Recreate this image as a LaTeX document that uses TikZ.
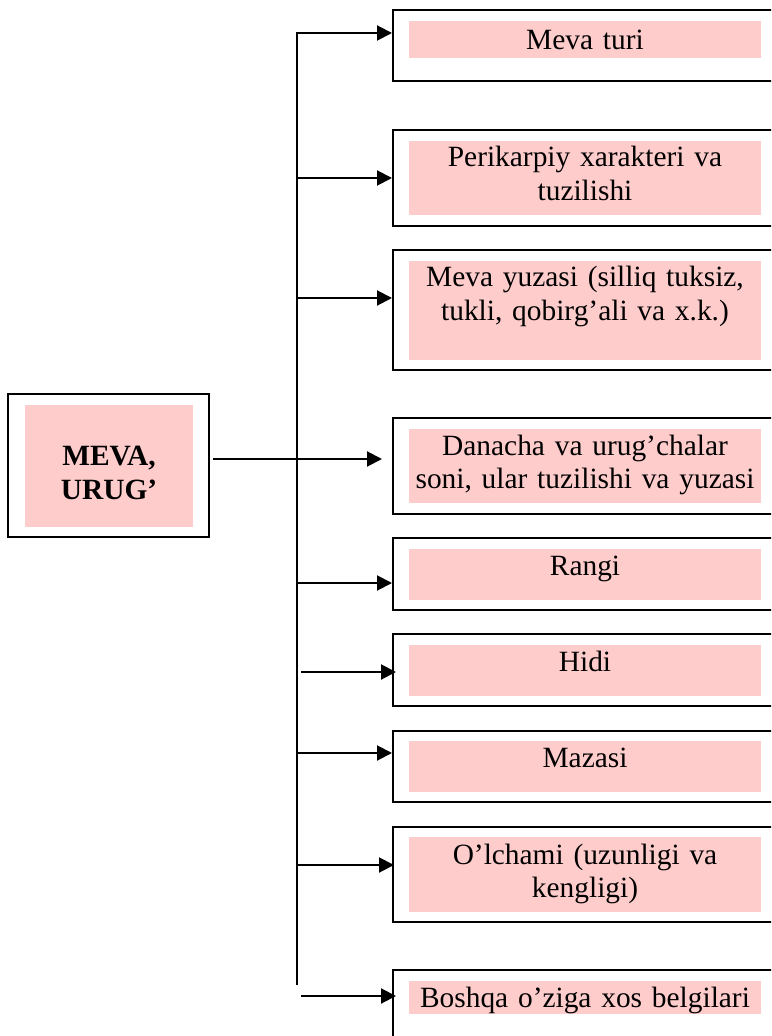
\documentclass[tikz,border=0pt]{standalone}
\usepackage{fontspec}
\setmainfont{Liberation Serif}
\usetikzlibrary{arrows.meta}
\definecolor{softpink}{RGB}{255,204,204}
\begin{document}
% one unit = one pixel of a 771 x 1036 canvas, y pointing down
\begin{tikzpicture}[x=0.5pt,y=-0.5pt,
  outer/.style={draw=black,line width=1pt,fill=white,inner sep=0pt,minimum width=192pt},
  pinkbox/.style={fill=softpink,inner sep=0pt,minimum width=176pt},
  label/.style={anchor=base,inner sep=0pt,text width=176pt,align=center,
    font=\fontsize{14.7}{16.9}\selectfont},
  arr/.style={line width=1pt,-{Triangle[length=7.5pt,width=7.5pt]}},
  trunk/.style={line width=1pt,line join=miter}]
\useasboundingbox (0,0) rectangle (771,1036);
\clip (0,0) rectangle (771,1036);

% central box
\node[outer,minimum width=100.5pt,minimum height=71.5pt] (m) at (108.5,465.5) {};
\node[pinkbox,minimum width=84pt,minimum height=61pt] (mp) at (109,466) {};
\node[label,text width=84pt,font=\fontsize{14.7}{17}\selectfont\bfseries] (mt) at (109,466) {MEVA,\\URUG’};

% feature boxes: outer frame, pink panel, text
\node[outer,minimum height=35.5pt] (b1) at (585,45.5) {};
\node[pinkbox,minimum height=18.5pt] (p1) at (585,39.5) {};
\node[label] (t1) at (585,50) {Meva turi};

\node[outer,minimum height=48pt] (b2) at (585,178) {};
\node[pinkbox,minimum height=37pt] (p2) at (585,178) {};
\node[label] (t2) at (585,167) {Perikarpiy xarakteri va\\tuzilishi};

\node[outer,minimum height=60pt] (b3) at (585,310) {};
\node[pinkbox,minimum height=49.5pt] (p3) at (585,310.5) {};
\node[label] (t3) at (585,287) {Meva yuzasi (silliq tuksiz,\\tukli, qobirg’ali va x.k.)};

\node[outer,minimum height=48pt] (b4) at (585,466) {};
\node[pinkbox,minimum height=37pt] (p4) at (585,466) {};
\node[label] (t4) at (585,455) {Danacha va urug’chalar\\soni, ular tuzilishi va yuzasi};

\node[outer,minimum height=36pt] (b5) at (585,574) {};
\node[pinkbox,minimum height=25.5pt] (p5) at (585,574.5) {};
\node[label] (t5) at (585,575) {Rangi};

\node[outer,minimum height=36pt] (b6) at (585,670) {};
\node[pinkbox,minimum height=25.5pt] (p6) at (585,670.5) {};
\node[label] (t6) at (585,671) {Hidi};

\node[outer,minimum height=35.5pt] (b7) at (585,766.5) {};
\node[pinkbox,minimum height=25.5pt] (p7) at (585,766.5) {};
\node[label] (t7) at (585,767) {Mazasi};

\node[outer,minimum height=47.5pt] (b8) at (585,874.5) {};
\node[pinkbox,minimum height=37.5pt] (p8) at (585,874.5) {};
\node[label] (t8) at (585,864) {O’lchami (uzunligi va\\kengligi)};

\node[outer,minimum height=40pt] (b9) at (585,1010) {};
\node[pinkbox,minimum height=16.5pt] (p9) at (585,997.5) {};
\node[label] (t9) at (585,1007) {Boshqa o’ziga xos belgilari};

% trunk and branch points
\coordinate (jb) at (297,985);
\coordinate (j1) at (297,33);
\coordinate (j2) at (297,178);
\coordinate (j3) at (297,298);
\coordinate (j5) at (297,583);
\coordinate (j7) at (297,753);
\coordinate (s6) at (301,672);
\coordinate (s8) at (298,865);
\coordinate (s9) at (301,996);
\coordinate (ms) at (213,459);
\coordinate (me) at (382,459);

\draw[trunk,arr] (jb) -- (j1) -- (j1 -| b1.west);
\draw[arr] (j2) -- (j2 -| b2.west);
\draw[arr] (j3) -- (j3 -| b3.west);
\draw[arr] (j5) -- (j5 -| b5.west);
\draw[arr] (j7) -- (j7 -| b7.west);
\draw[arr,shorten >=-2pt] (s6) -- (s6 -| b6.west);
\draw[arr,shorten >=-1pt] (s8) -- (s8 -| b8.west);
\draw[arr,shorten >=-2pt] (s9) -- (s9 -| b9.west);

% main connector from the central box
\draw[arr] (ms) -- (me);
\end{tikzpicture}
\end{document}
